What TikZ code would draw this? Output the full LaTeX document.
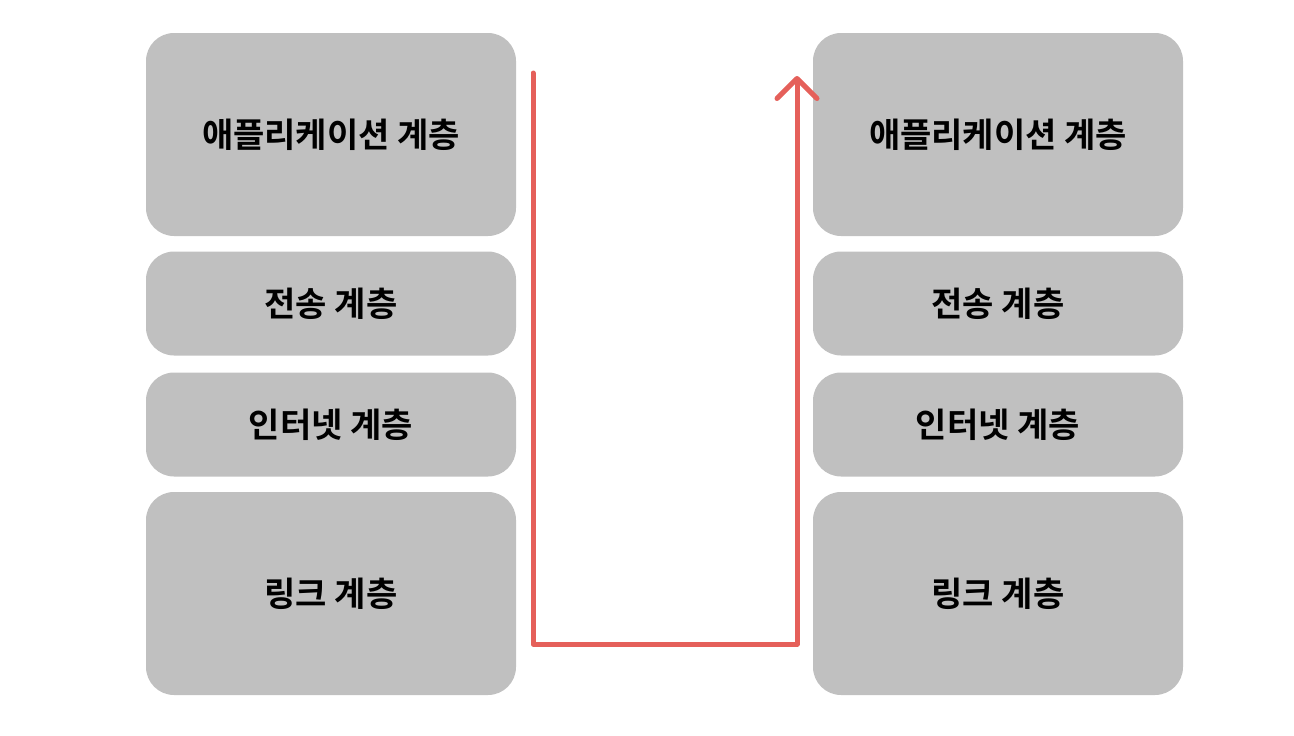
\documentclass[tikz,border=0pt]{standalone}
\usepackage{fontspec}
\setmainfont{Noto Sans CJK KR}[BoldFont={Noto Sans CJK KR Bold}]
\usetikzlibrary{arrows.meta}
\definecolor{boxgray}{HTML}{C0C0C0}
\definecolor{arrowred}{HTML}{E5605A}
\begin{document}
\begin{tikzpicture}[x=1pt,y=-1pt,
  layer/.style={fill=boxgray, rounded corners=28pt, minimum width=370pt, inner sep=0pt,
    font=\fontsize{34}{40}\selectfont\bfseries, text=black},
  tall/.style={layer, minimum height=203pt},
  short/.style={layer, minimum height=104pt},
  flow/.style={draw=arrowred, line width=5pt, line cap=round, line join=round,
    -{Straight Barb[length=20pt,width=40pt,line width=5pt,round]}}]
\useasboundingbox (0,0) rectangle (1294,736);
\node[tall]  (la) at (331,134.5) {애플리케이션 계층};
\node[short] (lt) at (331,303.5) {전송 계층};
\node[short] (li) at (331,424.5) {인터넷 계층};
\node[tall]  (ll) at (331,593.5) {링크 계층};
\node[tall]  (ra) at (998,134.5) {애플리케이션 계층};
\node[short] (rt) at (998,303.5) {전송 계층};
\node[short] (ri) at (998,424.5) {인터넷 계층};
\node[tall]  (rl) at (998,593.5) {링크 계층};
\coordinate (s) at (533,73);
\coordinate (c1) at (533,644);
\coordinate (c2) at (797,644);
\coordinate (e) at (797,76);
\draw[flow] (s) -- (c1) -- (c2) -- (e);
\end{tikzpicture}
\end{document}
